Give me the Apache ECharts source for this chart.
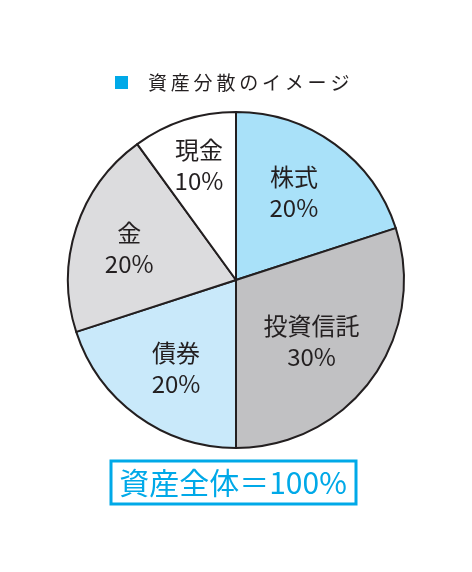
<!DOCTYPE html>
<html>
<head>
<meta charset="utf-8">
<script src="https://cdn.jsdelivr.net/npm/echarts@6/dist/echarts.min.js"></script>
<style>html,body{margin:0;padding:0;background:#fff;}#c{width:472px;height:572px;}</style>
</head>
<body>
<div id="c"></div>
<script>
const categories = ['株式', '投資信託', '債券', '金', '現金'];
const values = [20, 30, 20, 20, 10];
const colors = ['#a9e1f9', '#c1c1c3', '#c9e9fa', '#dcdcde', '#ffffff'];
const labelOffsets = [[-5, -1], [-11, -2], [3, 2], [-5, 1], [-4, -13]];
const titleText = '資\u2009産\u2009分\u2009散\u2009の\u2009イ\u2009メ\u2009ー\u2009ジ';
const totalText = '資産全体＝100%';

const font = '"Noto Sans CJK JP", "Noto Sans", sans-serif';
const data = categories.map((n, i) => ({ name: n, value: values[i], itemStyle: { color: colors[i] } }));

const chart = echarts.init(document.getElementById('c'));
chart.setOption({
  backgroundColor: '#fff',
  animation: false,
  series: [
    {
      type: 'pie',
      center: [236, 280],
      radius: [0, 168],
      startAngle: 90,
      clockwise: true,
      silent: true,
      data: data,
      itemStyle: { borderColor: '#231f20', borderWidth: 2 },
      label: { show: false },
      labelLine: { show: false }
    },
    {
      type: 'pie',
      center: [236, 280],
      radius: [0, 208],
      startAngle: 90,
      clockwise: true,
      silent: true,
      data: categories.map((n, i) => ({ name: n, value: values[i], label: { offset: labelOffsets[i] } })),
      itemStyle: { color: 'rgba(0,0,0,0)', borderWidth: 0 },
      label: {
        show: true,
        position: 'inside',
        formatter: p => p.name + '\n' + p.value + '%',
        color: '#231f20',
        fontSize: 24,
        lineHeight: 31,
        fontFamily: font
      },
      labelLine: { show: false }
    }
  ],
  graphic: [
    { type: 'rect', shape: { x: 115, y: 76, width: 13, height: 13 }, style: { fill: '#00a9e8' } },
    { type: 'text', x: 148, y: 83, style: { text: titleText, font: '19px ' + font, fill: '#231f20', textVerticalAlign: 'middle' } },
    { type: 'rect', shape: { x: 111, y: 461, width: 245, height: 43 }, style: { fill: 'none', stroke: '#00a9e8', lineWidth: 3 } },
    { type: 'text', x: 233, y: 483, style: { text: totalText, font: '30px ' + font, fill: '#00a9e8', textAlign: 'center', textVerticalAlign: 'middle' } }
  ]
});
</script>
</body>
</html>
